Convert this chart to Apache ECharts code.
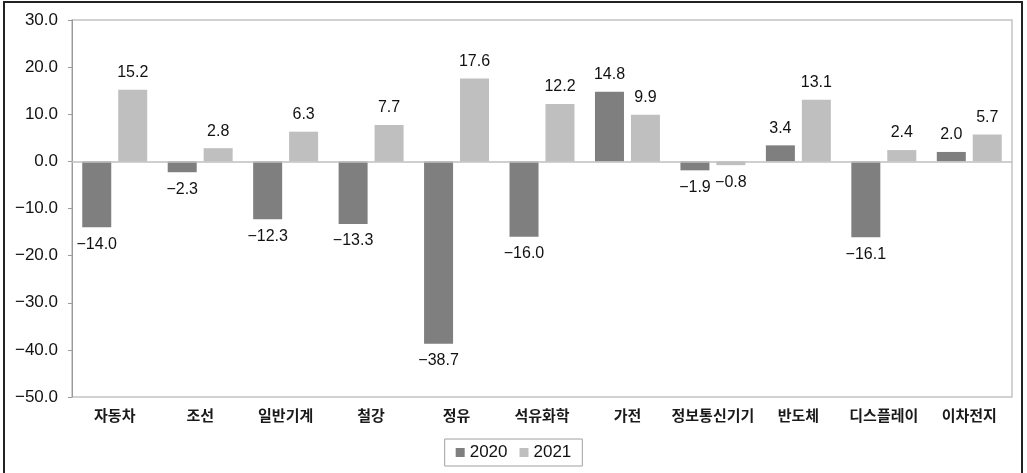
<!DOCTYPE html>
<html>
<head>
<meta charset="utf-8">
<script src="https://cdn.jsdelivr.net/npm/echarts@6/dist/echarts.min.js"></script>
<style>
html,body{margin:0;padding:0;background:#fff;}
#wrap{position:relative;width:1027px;height:473px;overflow:hidden;}
#frame{position:absolute;left:3px;top:1px;width:1020px;height:480px;border:2px solid #222;box-sizing:border-box;}
#chart{position:absolute;left:0;top:0;width:1027px;height:473px;}
</style>
</head>
<body>
<div id="wrap"><div id="frame"></div><div id="chart"></div></div>
<script>
const categories = ['자동차','조선','일반기계','철강','정유','석유화학','가전','정보통신기기','반도체','디스플레이','이차전지'];
const series2020 = [-14.0, -2.3, -12.3, -13.3, -38.7, -16.0, 14.8, -1.9, 3.4, -16.1, 2.0];
const series2021 = [15.2, 2.8, 6.3, 7.7, 17.6, 12.2, 9.9, -0.8, 13.1, 2.4, 5.7];
const seriesNames = ['2020','2021'];
const yTicks = {min: -50, max: 30, interval: 10};

const fmt = v => (v < 0 ? '\u2212' : '') + Math.abs(v).toFixed(1);
const numFont = '"Liberation Sans", Arial, sans-serif';

function mkData(arr){
  return arr.map(v => ({value: v, label: {position: v < 0 ? 'bottom' : 'top'}}));
}
function mkSeries(name, arr, color, withZero){
  const s = {
    name: name, type: 'bar', data: mkData(arr),
    barWidth: 29, barGap: '24%',
    itemStyle: {color: color},
    label: {show: true, distance: 9, color: '#111', fontSize: 16, fontFamily: numFont,
      formatter: p => fmt(p.value)}
  };
  if (withZero) {
    s.markLine = {silent: true, symbol: 'none', label: {show: false},
      lineStyle: {color: '#bfbfbf', type: 'solid', width: 1.5},
      data: [{yAxis: 0}]};
  }
  return s;
}

const chart = echarts.init(document.getElementById('chart'), null, {renderer: 'canvas'});
chart.setOption({
  animation: false,
  grid: {left: 72, right: 15, top: 20, bottom: 76, show: true, borderColor: '#c4c4c4', borderWidth: 1.5},
  legend: {
    data: seriesNames, left: 'center', top: 439,
    icon: 'rect', itemWidth: 9, itemHeight: 9, itemGap: 12,
    borderColor: '#a0a0a0', borderWidth: 1, padding: [5, 11],
    textStyle: {fontSize: 17, color: '#111', fontFamily: numFont}
  },
  xAxis: {
    type: 'category', data: categories,
    axisLine: {show: false, onZero: false}, axisTick: {show: false},
    axisLabel: {interval: 0, margin: 11, fontSize: 15, fontWeight: 'bold', color: '#1a1a1a',
      fontFamily: '"Noto Sans CJK KR", sans-serif'}
  },
  yAxis: {
    type: 'value', min: yTicks.min, max: yTicks.max, interval: yTicks.interval,
    axisLine: {show: true, lineStyle: {color: '#9a9a9a', width: 1}},
    axisTick: {show: true, length: 4, lineStyle: {color: '#9a9a9a'}},
    splitLine: {show: false},
    axisLabel: {margin: 14, fontSize: 17, color: '#111', fontFamily: numFont, formatter: v => fmt(v)}
  },
  series: [
    mkSeries(seriesNames[0], series2020, '#7f7f7f', true),
    mkSeries(seriesNames[1], series2021, '#bfbfbf', false)
  ]
});
</script>
</body>
</html>
